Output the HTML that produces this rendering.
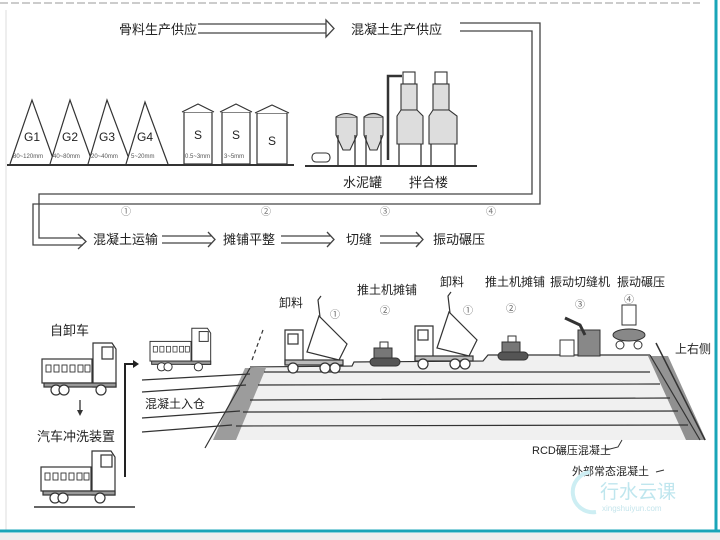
<!DOCTYPE html>
<html><head><meta charset="utf-8"><style>
html,body{margin:0;padding:0;background:#fff}
svg{display:block}
text{font-family:"Liberation Sans","Noto Sans CJK SC",sans-serif;fill:#222}
</style></head><body>
<svg width="720" height="540" viewBox="0 0 720 540" xmlns="http://www.w3.org/2000/svg">
<defs>
<g id="truck" fill="#fff" stroke="#333" stroke-width="1.2">
 <rect x="0" y="20" width="50" height="24"/>
 <g fill="none" stroke-width="0.9"><rect x="4" y="26" width="5" height="7"/><rect x="12" y="26" width="5" height="7"/><rect x="20" y="26" width="5" height="7"/><rect x="28" y="26" width="5" height="7"/><rect x="36" y="26" width="5" height="7"/><rect x="43" y="26" width="5" height="7"/></g>
 <path d="M51 48 V4 H70 L74 10 V48 Z"/>
 <rect x="60" y="8" width="11" height="12" fill="#fff"/>
 <rect x="2" y="44" width="72" height="4" fill="#999"/>
 <circle cx="14" cy="51" r="5"/><circle cx="22" cy="51" r="5"/><circle cx="59" cy="51" r="5"/>
</g>
<g id="dump" fill="#fff" stroke="#333" stroke-width="1.2">
 <path d="M0 8 H18 V42 H0 Z"/><rect x="3" y="12" width="10" height="10"/>
 <rect x="0" y="38" width="58" height="5" fill="#bbb"/>
 <path d="M22 30 L34 -6 L62 22 L54 38 Z"/>
 <path d="M35 -5 L33 -22 L36 -26" fill="none"/>
 <circle cx="8" cy="46" r="5"/><circle cx="40" cy="46" r="5"/><circle cx="50" cy="46" r="5"/>
</g>
<g id="dozer" stroke="#333" stroke-width="1">
 <rect x="4" y="6" width="18" height="10" fill="#777"/><rect x="10" y="0" width="8" height="6" fill="#fff"/>
 <rect x="0" y="16" width="30" height="8" rx="4" fill="#555"/>
</g>
</defs>
<line x1="0" y1="3" x2="700" y2="3" stroke="#bbb" stroke-width="1.5" stroke-dasharray="8 3"/>
<line x1="6" y1="10" x2="6" y2="530" stroke="#ddd" stroke-width="1"/>
<line x1="716" y1="0" x2="716" y2="530" stroke="#1aa5b8" stroke-width="3"/>
<line x1="0" y1="531" x2="720" y2="531" stroke="#1aa5b8" stroke-width="3"/>
<rect x="0" y="533" width="720" height="7" fill="#eee"/>

<text x="119" y="34" font-size="13">骨料生产供应</text>
<path d="M198 24 H326 M198 33 H326 M326 20 L334 28.5 L326 37 Z" stroke="#444" stroke-width="1.3" fill="none"/>
<text x="351" y="34" font-size="13">混凝土生产供应</text>
<path d="M460 23 H540 V204 H33 V245 H83 M460 31 H532 V194 H39 V238 H83" stroke="#444" stroke-width="1.3" fill="none"/>
<path d="M78 234 L86 241.5 L78 249" stroke="#444" stroke-width="1.3" fill="none"/>
<g font-size="10" style="fill:#777"><text x="121" y="215" style="fill:#777">①</text>
<text x="261" y="215" style="fill:#777">②</text>
<text x="380" y="215" style="fill:#777">③</text>
<text x="486" y="215" style="fill:#777">④</text></g>
<text x="93" y="244" font-size="13">混凝土运输</text>
<text x="223" y="244" font-size="13">摊铺平整</text>
<text x="346" y="244" font-size="13">切缝</text>
<text x="433" y="244" font-size="13">振动碾压</text>
<g stroke="#444" stroke-width="1.3" fill="none">
<path d="M162 236 H212 M162 243 H212 M208 232 L215 239.5 L208 247"/>
<path d="M281 236 H331 M281 243 H331 M327 232 L334 239.5 L327 247"/>
<path d="M380 236 H420 M380 243 H420 M416 232 L423 239.5 L416 247"/>
</g>

<g stroke="#333" stroke-width="1.2" fill="#fff">
<path d="M10 164 L32 100 L55 164"/><path d="M50 164 L70 100 L93 164"/><path d="M88 164 L107 100 L131 164"/><path d="M126 164 L145 102 L168 164"/>
<rect x="184" y="112" width="28" height="52"/><path d="M182 112 L198 104 L214 112"/>
<rect x="222" y="112" width="28" height="52"/><path d="M220 112 L236 104 L252 112"/>
<rect x="257" y="113" width="30" height="51"/><path d="M255 113 L272 105 L289 113"/>
</g>
<line x1="7" y1="165" x2="294" y2="165" stroke="#333" stroke-width="2"/>
<g font-size="12"><text x="24" y="141">G1</text><text x="62" y="141">G2</text><text x="99" y="141">G3</text><text x="137" y="141">G4</text>
<text x="194" y="139">S</text><text x="232" y="139">S</text><text x="268" y="145">S</text></g>
<g font-size="6"><text x="13" y="158" style="fill:#555">80~120mm</text><text x="53" y="158" style="fill:#555">40~80mm</text><text x="91" y="158" style="fill:#555">20~40mm</text><text x="131" y="158" style="fill:#555">5~20mm</text><text x="185" y="158" style="fill:#555">0.5~3mm</text><text x="224" y="158" style="fill:#555">3~5mm</text></g>

<g stroke="#333" stroke-width="1.1" fill="#ddd">
<rect x="312" y="153" width="18" height="9" rx="4" fill="#fff"/>
<path d="M336 117 H357 V135 L350 150 H343 L336 135 Z"/><path d="M336 117 Q346 110 357 117" fill="#ccc"/>
<path d="M364 117 H383 V135 L377 150 H370 L364 135 Z"/><path d="M364 117 Q373 110 383 117" fill="#ccc"/>
<path d="M388 160 V76 H402" fill="none" stroke-width="2.5"/>
<rect x="403" y="72" width="12" height="12" fill="#fff"/><rect x="401" y="84" width="16" height="26"/>
<path d="M401 110 L397 116 V144 H423 V116 L417 110 Z"/>
<rect x="435" y="72" width="12" height="12" fill="#fff"/><rect x="433" y="84" width="16" height="26"/>
<path d="M433 110 L429 116 V144 H457 V116 L449 110 Z"/>
</g>
<g stroke="#333" stroke-width="1.3"><path d="M399 144 V165 M421 144 V165 M431 144 V165 M455 144 V165 M338 135 V165 M355 135 V165 M366 135 V165 M381 135 V165"/></g>
<line x1="305" y1="166" x2="477" y2="166" stroke="#333" stroke-width="2"/>
<text x="343" y="187" font-size="13">水泥罐</text><text x="409" y="187" font-size="13">拌合楼</text>

<text x="50" y="335" font-size="13">自卸车</text>
<use href="#truck" transform="translate(42,339)"/>
<path d="M80 400 V414" stroke="#333" stroke-width="1.3"/><path d="M77 410 L80 416 L83 410Z" fill="#333"/>
<text x="37" y="441" font-size="13">汽车冲洗装置</text>
<use href="#truck" transform="translate(41,447)"/>
<line x1="34" y1="507" x2="135" y2="507" stroke="#333" stroke-width="1.5"/>
<path d="M125 477 V364 H134" stroke="#222" stroke-width="2" fill="none"/><path d="M133 360 L139 364 L133 368Z" fill="#222"/>
<use href="#truck" transform="translate(150,325) scale(0.82)"/>

<path d="M250 368 L352 366 L354 363 L483 362 L488 356 L650 355 L700 440 L210 440 Z" fill="#f0f0f0"/>
<path d="M245 368 L266 368 L236 440 L213 440 Z" fill="#777" opacity="0.7"/>
<path d="M648 356 L668 356 L706 440 L686 440 Z" fill="#666" opacity="0.7"/>
<g stroke="#333" stroke-width="1.2" fill="none">
<path d="M142 380 L250 374 M142 392 L246 385 M142 418 L240 411 M142 432 L232 425"/>
<path d="M250 367 L352 366 L354 362 L483 361 L488 355 L650 355"/>
<path d="M264 372 L650 372 M258 385 L660 384 M250 400 L670 398 M243 412 L678 411 M236 426 L688 425 M205 448 L250 368"/>
<path d="M650 355 L700 440"/><path d="M656 343 L705 440" stroke-width="1.5"/>
<path d="M252 360 L263 330" stroke-dasharray="4 3"/>
</g>
<use href="#dump" transform="translate(285,322)"/>
<use href="#dump" transform="translate(415,318)"/>
<use href="#dozer" transform="translate(370,342)"/>
<use href="#dozer" transform="translate(498,336)"/>
<g stroke="#333" stroke-width="1" fill="#888">
<rect x="578" y="330" width="22" height="26"/><path d="M565 318 L580 325 L585 335" fill="none" stroke-width="3"/><rect x="560" y="340" width="14" height="16" fill="#fff"/>
<rect x="622" y="305" width="14" height="20" fill="#fff"/><ellipse cx="629" cy="335" rx="16" ry="6"/><circle cx="620" cy="345" r="4" fill="#fff"/><circle cx="638" cy="345" r="4" fill="#fff"/>
</g>
<g font-size="12">
<text x="279" y="307">卸料</text><text x="357" y="294">推土机摊铺</text><text x="440" y="286">卸料</text>
<text x="485" y="286">推土机摊铺</text><text x="550" y="286">振动切缝机</text><text x="617" y="286">振动碾压</text>
<text x="675" y="353">上右侧</text><text x="145" y="408">混凝土入仓</text>
<text x="532" y="454" font-size="11">RCD碾压混凝土</text><text x="572" y="475" font-size="11">外部常态混凝土</text>
</g>
<path d="M606 450 L618 447 L622 440 M656 472 L664 470" stroke="#333" fill="none"/>
<g font-size="10"><text x="330" y="318" style="fill:#666">①</text><text x="380" y="314" style="fill:#666">②</text><text x="463" y="314" style="fill:#666">①</text><text x="506" y="312" style="fill:#666">②</text><text x="575" y="308" style="fill:#666">③</text><text x="624" y="303" style="fill:#666">④</text></g>
<text x="600" y="498" font-size="19" style="fill:#bfe6ee">行水云课</text>
<text x="602" y="511" font-size="8" style="fill:#c5e5ec">xingshuiyun.com</text>
<path d="M590 472 A20 20 0 1 0 596 512" stroke="#cdeef3" stroke-width="4" fill="none"/>
</svg>
</body></html>
